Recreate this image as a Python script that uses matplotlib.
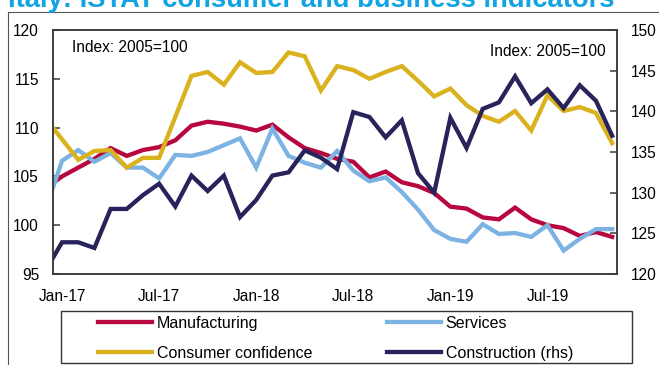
import numpy as np
import matplotlib
matplotlib.use("Agg")
import matplotlib.pyplot as plt
from matplotlib.patches import Rectangle
from matplotlib.lines import Line2D

plt.rcParams['font.family'] = ['Liberation Sans', 'DejaVu Sans']

# Months: Dec-16 .. Nov-19 (Dec-16 sits just outside the left edge)
months = ["Dec-16",
          "Jan-17", "Feb-17", "Mar-17", "Apr-17", "May-17", "Jun-17", "Jul-17", "Aug-17", "Sep-17", "Oct-17", "Nov-17", "Dec-17",
          "Jan-18", "Feb-18", "Mar-18", "Apr-18", "May-18", "Jun-18", "Jul-18", "Aug-18", "Sep-18", "Oct-18", "Nov-18", "Dec-18",
          "Jan-19", "Feb-19", "Mar-19", "Apr-19", "May-19", "Jun-19", "Jul-19", "Aug-19", "Sep-19", "Oct-19", "Nov-19"]

manufacturing = [103.8, 105.0, 105.9, 106.8, 107.9, 107.1, 107.7, 108.0, 108.7, 110.2, 110.6, 110.4, 110.1,
                 109.7, 110.3, 109.0, 107.9, 107.4, 106.8, 106.5, 104.9, 105.5, 104.4, 104.0, 103.3,
                 101.9, 101.7, 100.8, 100.6, 101.8, 100.6, 100.0, 99.7, 98.9, 99.3, 98.8]

services = [101.7, 106.6, 107.7, 106.5, 107.4, 105.9, 105.9, 104.8, 107.2, 107.1, 107.5, 108.2, 108.9,
            105.9, 109.9, 107.1, 106.4, 105.9, 107.6, 105.6, 104.5, 104.9, 103.4, 101.6, 99.5,
            98.6, 98.3, 100.1, 99.1, 99.2, 98.8, 100.0, 97.4, 98.6, 99.6, 99.6]

consumer = [110.9, 108.8, 106.7, 107.6, 107.7, 105.9, 106.9, 106.9, 111.1, 115.3, 115.7, 114.4, 116.7,
            115.6, 115.7, 117.7, 117.3, 113.8, 116.3, 115.9, 115.0, 115.7, 116.3, 114.8, 113.2,
            114.0, 112.3, 111.2, 110.6, 111.7, 109.7, 113.3, 111.7, 112.1, 111.5, 108.4]

construction = [120.5, 123.9, 123.9, 123.2, 128.0, 128.0, 129.7, 131.1, 128.3, 132.1, 130.2, 132.1, 127.0,
                129.1, 132.1, 132.5, 135.2, 134.3, 132.9, 139.9, 139.3, 136.8, 138.9, 132.4, 130.0,
                139.2, 135.5, 140.3, 141.1, 144.3, 141.0, 142.7, 140.4, 143.2, 141.3, 137.0]

tick_labels = ["Jan-17", "Jul-17", "Jan-18", "Jul-18", "Jan-19", "Jul-19"]
left_ticks = [95, 100, 105, 110, 115, 120]
right_ticks = [120, 125, 130, 135, 140, 145, 150]

c_man = "#B8073F"
c_ser = "#7DB3E3"
c_con = "#DAB21E"
c_cst = "#28245B"
spine_c = "#3a3a3a"

W, H = 659, 365
fig = plt.figure(figsize=(W / 100, H / 100), dpi=100)
ax = fig.add_axes([53 / W, 1 - 274 / H, (617 - 53) / W, (274 - 30) / H])
ax2 = ax.twinx()

x = np.arange(len(months)) - 1
lw = 3.1
l1, = ax.plot(x, manufacturing, color=c_man, lw=lw, solid_joinstyle='miter', label="Manufacturing")
l2, = ax.plot(x, services, color=c_ser, lw=lw, solid_joinstyle='miter', label="Services")
l3, = ax.plot(x, consumer, color=c_con, lw=lw, solid_joinstyle='miter', label="Consumer confidence")
l4, = ax2.plot(x, construction, color=c_cst, lw=lw, solid_joinstyle='miter', label="Construction (rhs)")

ax.set_xlim(-0.56, 34.3)
ax.set_ylim(95, 120)
ax2.set_ylim(120, 150)
ax.set_yticks(left_ticks)
ax2.set_yticks(right_ticks)
ax.set_xticks([months.index(t) - 1 for t in tick_labels])
ax.set_xticklabels(tick_labels)

ax.tick_params(axis='x', length=0, pad=11, labelsize=11.2, colors='black')
ax.tick_params(axis='y', direction='in', length=5, width=1.1, color=spine_c, pad=10, labelsize=11.2)
ax2.tick_params(axis='y', direction='in', length=5, width=1.1, color=spine_c, pad=10, labelsize=11.2)
for a in (ax, ax2):
    for s in a.spines.values():
        s.set_color(spine_c)
        s.set_linewidth(1.1)

ax.text(72 / W, 1 - 47 / H, "Index: 2005=100", transform=fig.transFigure, fontsize=11.2, va='center', ha='left')
ax.text(606 / W, 1 - 51 / H, "Index: 2005=100", transform=fig.transFigure, fontsize=11.2, va='center', ha='right')

# Title (partly cut at top, as in the reference)
fig.text(8 / W, 1 - 7 / H, "Italy: ISTAT consumer and business indicators", fontsize=19.7,
         fontweight='bold', color='#10A4E4', ha='left', va='baseline')

# Outer frame lines
fig.add_artist(Line2D([8 / W, 1], [1 - 12 / H, 1 - 12 / H], transform=fig.transFigure, color='#555555', lw=0.8))
fig.add_artist(Line2D([8 / W, 8 / W], [0, 1 - 12 / H], transform=fig.transFigure, color='#555555', lw=0.8))

# Legend box
fig.add_artist(Rectangle((61 / W, 1 - 363 / H), (632 - 61) / W, (363 - 311) / H, transform=fig.transFigure,
                         fill=False, edgecolor='#333333', lw=1.0))
fig.legend([l1, l3, l2, l4], ["Manufacturing", "Consumer confidence", "Services", "Construction (rhs)"],
           ncol=2, frameon=False, loc='upper left', bbox_to_anchor=(98 / W, 1 - 316 / H),
           borderpad=0, borderaxespad=0, handlelength=3.38, handletextpad=0.31, columnspacing=4.65,
           labelspacing=0.92, fontsize=11.5)

fig.savefig("out.png", dpi=100)
